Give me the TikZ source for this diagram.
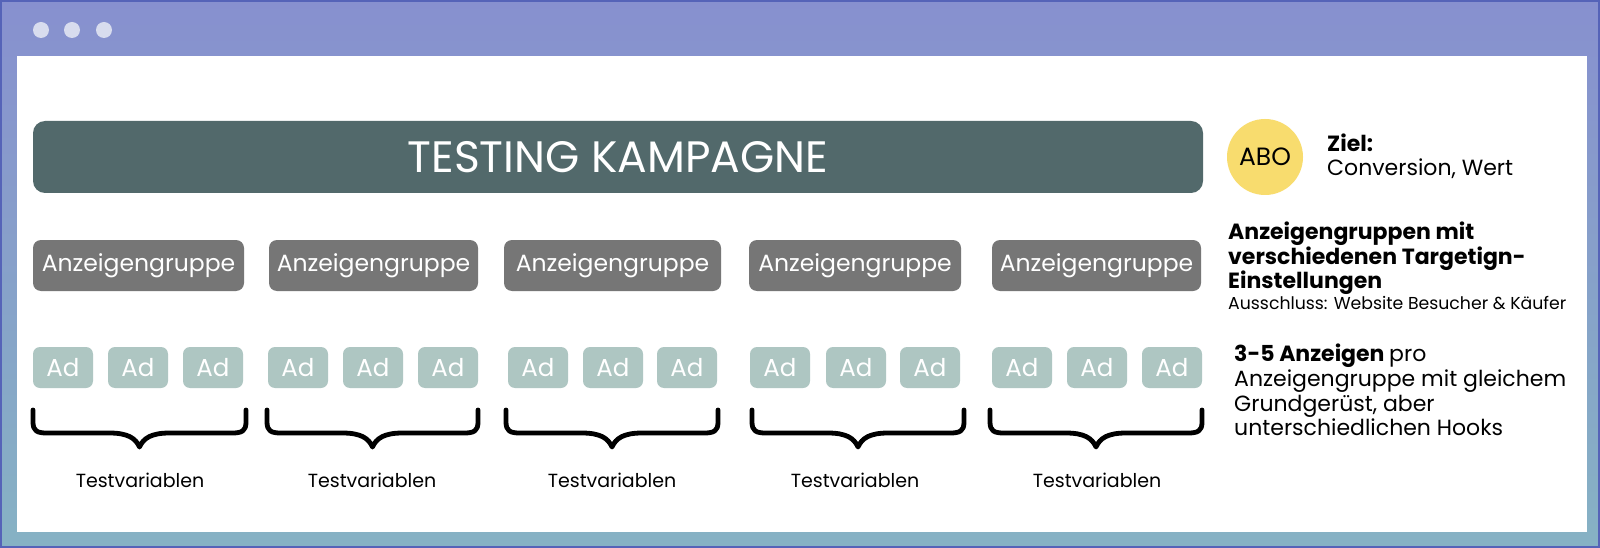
\documentclass[tikz,border=0pt]{standalone}
\usepackage{fontspec}
\setmainfont{Poppins}
\definecolor{frametop}{HTML}{8790CF}
\definecolor{framemid}{HTML}{8190C4}
\definecolor{framebot}{HTML}{86B2C4}
\definecolor{frameedge}{HTML}{5563B8}
\definecolor{dotcol}{HTML}{D8DCEE}
\definecolor{titlecol}{HTML}{52696B}
\definecolor{grpcol}{HTML}{767676}
\definecolor{adcol}{HTML}{AEC6C2}
\definecolor{abocol}{HTML}{F8DC6E}
\tikzset{
  titlebox/.style={fill=titlecol, rounded corners=12pt, minimum width=1170pt, minimum height=72pt, inner sep=0pt, text=white, font=\fontsize{44}{50}\selectfont},
  grpbox/.style={fill=grpcol, rounded corners=8pt, minimum height=51pt, inner sep=0pt, text=white, font=\fontsize{23.5}{28}\selectfont},
  adbox/.style={fill=adcol, rounded corners=7pt, minimum width=60pt, minimum height=41pt, inner sep=0pt, text=white, font=\fontsize{24.5}{28}\selectfont},
  bracepath/.style={line width=4.8pt, line cap=round, line join=round},
  tvlabel/.style={inner sep=0pt, font=\fontsize{19}{22}\selectfont},
  infoline/.style={anchor=base west, inner sep=0pt, font=\fontsize{22}{26}\selectfont},
  smallline/.style={anchor=base west, inner sep=0pt, font=\fontsize{17.3}{20}\selectfont},
}
\begin{document}
\begin{tikzpicture}[x=1pt,y=-1pt]
\useasboundingbox (0,0) rectangle (1600,548);
% window frame
\shade[top color=frametop, middle color=framemid, bottom color=framebot] (0,0) rectangle (1600,548);
\draw[frameedge, line width=2pt] (1,1) rectangle (1599,547);
\fill[white] (17,56) rectangle (1587,532);
\foreach \x in {41,72,104}
  \fill[dotcol] (\x,30) circle (8);
% title
\node[titlebox] (title) at (618,157) {TESTING KAMPAGNE};
% ad groups
\node[grpbox, minimum width=211pt] (g1) at (138.5,265.5) {Anzeigengruppe};
\node[grpbox, minimum width=209pt] (g2) at (373.5,265.5) {Anzeigengruppe};
\node[grpbox, minimum width=217pt] (g3) at (612.5,265.5) {Anzeigengruppe};
\node[grpbox, minimum width=212pt] (g4) at (855,265.5) {Anzeigengruppe};
\node[grpbox, minimum width=209pt] (g5) at (1096.5,265.5) {Anzeigengruppe};
% ads
\foreach \g/\a/\b/\c in {1/63/138/213, 2/298/373/448, 3/538/613/687, 4/780/856/930, 5/1022/1097/1172}{
  \node[adbox] (ad\g a) at (\a,367.5) {Ad};
  \node[adbox] (ad\g b) at (\b,367.5) {Ad};
  \node[adbox] (ad\g c) at (\c,367.5) {Ad};
}
% braces
\foreach \l/\r in {33/246, 267/478, 506/718, 752/964, 990/1202}{
  \pgfmathsetmacro\m{(\l+\r)/2}
  \draw[bracepath] (\l,410) -- (\l,422) .. controls (\l,431) and (\l+4,433) .. (\l+14,433)
     -- (\m-30,433) .. controls (\m-12,433) and (\m-4,438) .. (\m,447)
     .. controls (\m+4,438) and (\m+12,433) .. (\m+30,433)
     -- (\r-14,433) .. controls (\r-4,433) and (\r,431) .. (\r,422) -- (\r,410);
}
% labels
\node[tvlabel] (tv1) at (140,480) {Testvariablen};
\node[tvlabel] (tv2) at (372,480) {Testvariablen};
\node[tvlabel] (tv3) at (612,480) {Testvariablen};
\node[tvlabel] (tv4) at (855,480) {Testvariablen};
\node[tvlabel] (tv5) at (1097,480) {Testvariablen};
% right side
\node[circle, fill=abocol, minimum size=76pt, inner sep=0pt, font=\fontsize{25}{28}\selectfont] (abo) at (1265,157) {ABO};
\node[infoline] (ziel) at (1327,152) {\bfseries Ziel:};
\node[infoline] (conv) at (1327,176) {Conversion, Wert};
\node[infoline] (ag1) at (1228,239) {\bfseries Anzeigengruppen mit};
\node[infoline] (ag2) at (1228,264) {\bfseries verschiedenen Targetign-};
\node[infoline] (ag3) at (1228,288) {\bfseries Einstellungen};
\node[smallline] (ag4) at (1228,309) {Ausschluss: Website Besucher \& Käufer};
\node[infoline] (an1) at (1234,361) {\bfseries 3-5 Anzeigen \mdseries pro};
\node[infoline] (an2) at (1234,386) {Anzeigengruppe mit gleichem};
\node[infoline] (an3) at (1234,411) {Grundgerüst, aber};
\node[infoline] (an4) at (1234,435) {unterschiedlichen Hooks};
\end{tikzpicture}
\end{document}
